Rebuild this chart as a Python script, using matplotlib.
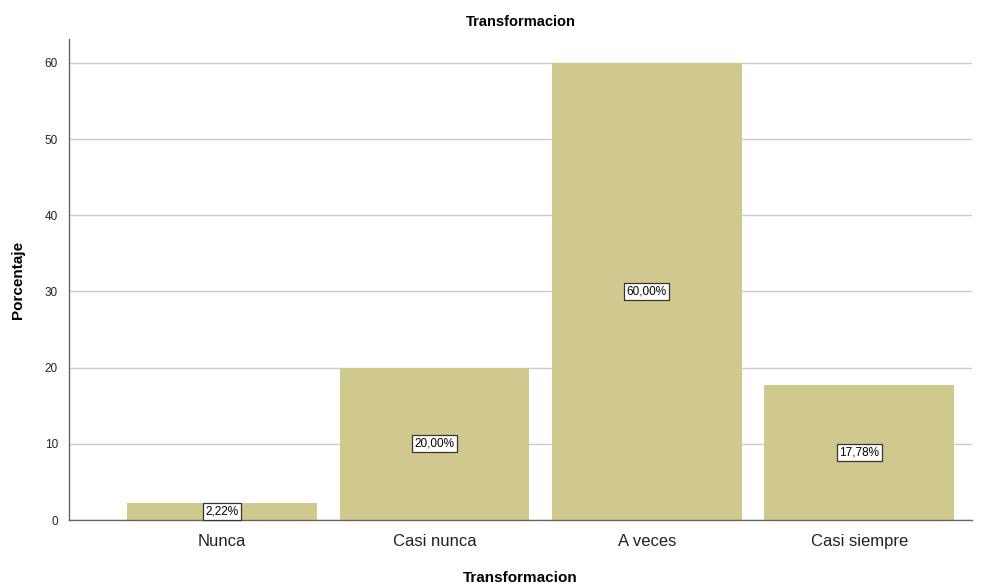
#!/usr/bin/env python3
"""SPSS-style percentage bar chart for 'Transformacion'."""

import matplotlib.pyplot as plt

plt.rcParams["font.family"] = ["Liberation Sans", "DejaVu Sans"]

CATEGORIES = ["Nunca", "Casi nunca", "A veces", "Casi siempre"]
PERCENTS = [2.22, 20.00, 60.00, 17.78]
Y_TICKS = [0, 10, 20, 30, 40, 50, 60]
BAR_COLOR = "#d0c98e"


def main() -> None:
    fig = plt.figure(figsize=(10.01, 5.87), dpi=100)
    ax = fig.add_axes([0.0689, 0.1141, 0.9021, 0.8195])

    xs = list(range(len(CATEGORIES)))
    ax.bar(xs, PERCENTS, width=0.893, color=BAR_COLOR, zorder=2)

    for x, val in zip(xs, PERCENTS):
        ax.text(
            x,
            val / 2,
            f"{val:.2f}%".replace(".", ","),
            ha="center",
            va="center",
            fontsize=8.5,
            zorder=3,
            bbox=dict(boxstyle="square,pad=0.2", fc="white", ec="#333333", lw=0.9),
        )

    ax.set_xlim(-0.72, 3.53)
    ax.set_ylim(0, 63.15)
    ax.set_yticks(Y_TICKS)
    ax.set_xticks(xs)
    ax.set_xticklabels(CATEGORIES, fontsize=12, color="#222222")
    ax.tick_params(axis="y", labelsize=8.5, length=0, pad=8, colors="#222222")
    ax.tick_params(axis="x", length=0, pad=10)
    ax.yaxis.grid(True, color="#cccccc", lw=1.0, zorder=0)
    ax.set_axisbelow(True)

    for side in ("top", "right"):
        ax.spines[side].set_visible(False)
    for side in ("left", "bottom"):
        ax.spines[side].set_color("#666666")
        ax.spines[side].set_linewidth(1.0)

    ax.set_title("Transformacion", fontsize=10.5, fontweight="bold", pad=9)
    ax.set_xlabel("Transformacion", fontsize=11, fontweight="bold", labelpad=16)
    ax.set_ylabel("Porcentaje", fontsize=11, fontweight="bold", labelpad=14)

    fig.savefig("out.png", dpi=100)
    plt.close(fig)


if __name__ == "__main__":
    main()
